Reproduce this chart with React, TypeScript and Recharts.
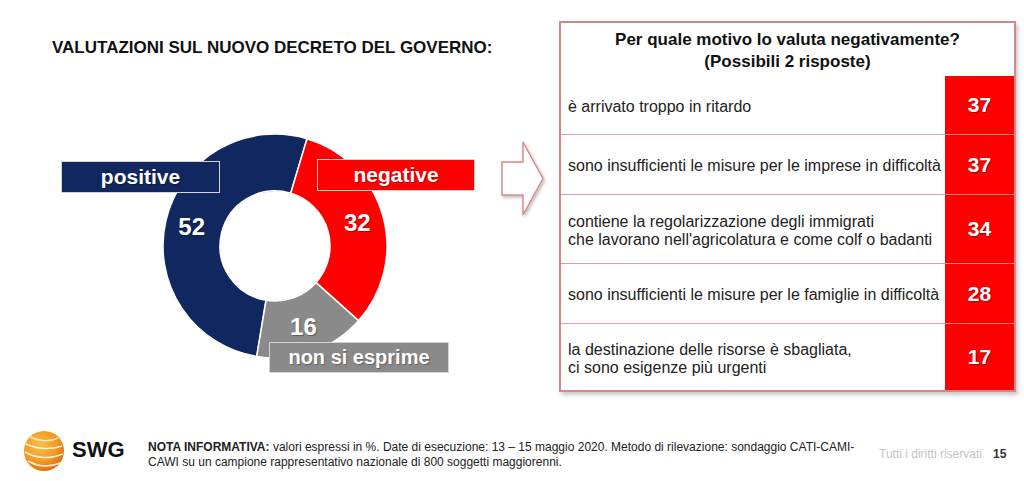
import React from 'react';
import { PieChart, Pie, Cell } from 'recharts';

// ---- data ----
const categories = ['positive', 'negative', 'non si esprime'];
const values = [52, 32, 16];
const reasonLines = [
  ['è arrivato troppo in ritardo'],
  ['sono insufficienti le misure per le imprese in difficoltà'],
  ['contiene la regolarizzazione degli immigrati', "che lavorano nell'agricolatura e come colf o badanti"],
  ['sono insufficienti le misure per le famiglie in difficoltà'],
  ['la destinazione delle risorse è sbagliata,', 'ci sono esigenze più urgenti'],
];
const reasonValues = [37, 37, 34, 28, 17];
const titleText = 'VALUTAZIONI SUL NUOVO DECRETO DEL GOVERNO:';
const tableTitle = ['Per quale motivo lo valuta negativamente?', '(Possibili 2 risposte)'];
const noteBold = 'NOTA INFORMATIVA:';
const noteText1 = ' valori espressi in %. Date di esecuzione: 13 – 15 maggio 2020. Metodo di rilevazione: sondaggio CATI-CAMI-';
const noteText2 = 'CAWI su un campione rappresentativo nazionale di 800 soggetti maggiorenni.';

// ---- styles / layout ----
const FONT = '"Liberation Sans", Arial, Helvetica, sans-serif';
const sliceColors = ['#10285f', '#ff0000', '#8a8a8a'];
const nameBoxes = [
  { left: 61, top: 161, width: 159, height: 32, size: 21 },
  { left: 317, top: 159, width: 158, height: 32, size: 21 },
  { left: 269, top: 342, width: 180, height: 31, size: 20 },
];
const rowHeights = [58, 60, 69, 60, 67];
const RAD = Math.PI / 180;

const pieData = categories.map((name, i) => ({ name, value: values[i] }));

const renderValue = (props: any) => {
  const { cx, cy, midAngle, innerRadius, outerRadius, value } = props;
  const r = (innerRadius + outerRadius) / 2 + 2;
  const x = cx + r * Math.cos(-midAngle * RAD);
  const y = cy + r * Math.sin(-midAngle * RAD);
  return (
    <text
      x={x}
      y={y}
      fill="#fff"
      textAnchor="middle"
      dominantBaseline="central"
      fontFamily={FONT}
      fontWeight="bold"
      fontSize={24}
      style={{ textShadow: '1px 1px 1px rgba(0,0,0,0.35)' }}
    >
      {value}
    </text>
  );
};

export default function App() {
  return (
    <div
      style={{
        position: 'absolute',
        left: 0,
        top: 0,
        width: 1024,
        height: 481,
        background: '#fff',
        fontFamily: FONT,
        overflow: 'hidden',
      }}
    >
      <div
        style={{
          position: 'absolute',
          left: 52,
          top: 38,
          fontSize: 17,
          fontWeight: 'bold',
          color: '#111',
          whiteSpace: 'nowrap',
          lineHeight: '20px',
        }}
      >
        {titleText}
      </div>

      <div style={{ position: 'absolute', left: 0, top: 0 }}>
        <PieChart width={560} height={400}>
          <Pie
            data={pieData}
            dataKey="value"
            nameKey="name"
            cx={270}
            cy={241}
            innerRadius={55}
            outerRadius={112}
            startAngle={-99.4}
            endAngle={-459.4}
            stroke="#ffffff"
            strokeWidth={1.5}
            label={renderValue}
            labelLine={false}
            isAnimationActive={false}
          >
            {pieData.map((d, i) => (
              <Cell key={d.name} fill={sliceColors[i]} />
            ))}
          </Pie>
        </PieChart>
      </div>

      {categories.map((name, i) => (
        <div
          key={name}
          style={{
            position: 'absolute',
            left: nameBoxes[i].left,
            top: nameBoxes[i].top,
            width: nameBoxes[i].width,
            height: nameBoxes[i].height,
            boxSizing: 'border-box',
            background: sliceColors[i],
            border: '1px solid #d4d4d4',
            color: '#fff',
            fontWeight: 'bold',
            fontSize: nameBoxes[i].size,
            display: 'flex',
            alignItems: 'center',
            justifyContent: 'center',
            whiteSpace: 'nowrap',
            textShadow: '1px 1px 1px rgba(0,0,0,0.3)',
          }}
        >
          {name}
        </div>
      ))}

      <svg style={{ position: 'absolute', left: 0, top: 0 }} width={1024} height={481}>
        <defs>
          <filter id="sh" x="-20%" y="-20%" width="140%" height="140%">
            <feDropShadow dx="1.5" dy="2" stdDeviation="1.5" floodColor="#000" floodOpacity="0.25" />
          </filter>
          <radialGradient id="og" cx="40%" cy="35%" r="70%">
            <stop offset="0%" stopColor="#fbc04a" />
            <stop offset="60%" stopColor="#f39a1e" />
            <stop offset="100%" stopColor="#e06a10" />
          </radialGradient>
        </defs>
        <polygon
          points="502,162 523,162 523,142 543,178.5 523,215 523,195 502,195"
          fill="#fff"
          stroke="#d88a8a"
          strokeWidth={1.5}
          filter="url(#sh)"
        />
        <circle cx={44} cy={451} r={20} fill="url(#og)" />
        <path d="M26,444 Q44,452 62,446" stroke="#fff" strokeWidth={1.6} fill="none" opacity={0.85} />
        <path d="M25,452 Q42,462 63,454" stroke="#fff" strokeWidth={1.6} fill="none" opacity={0.85} />
        <path d="M28,461 Q44,470 60,463" stroke="#fff" strokeWidth={1.6} fill="none" opacity={0.85} />
        <path d="M30,437 Q46,444 58,438" stroke="#fff" strokeWidth={1.4} fill="none" opacity={0.7} />
      </svg>

      <div
        style={{
          position: 'absolute',
          left: 559,
          top: 21,
          width: 457,
          height: 371,
          boxSizing: 'border-box',
          border: '2px solid #d08888',
          background: '#fff',
          boxShadow: '2px 3px 4px rgba(0,0,0,0.22)',
          display: 'flex',
          flexDirection: 'column',
        }}
      >
        <div
          style={{
            height: 53,
            boxSizing: 'border-box',
            paddingTop: 6,
            textAlign: 'center',
            fontWeight: 'bold',
            fontSize: 17,
            lineHeight: '22px',
            color: '#111',
          }}
        >
          {tableTitle.map((t) => (
            <div key={t}>{t}</div>
          ))}
        </div>
        {reasonLines.map((lines, i) => (
          <div key={i} style={{ display: 'flex', height: rowHeights[i] }}>
            <div
              style={{
                flex: 1,
                boxSizing: 'border-box',
                borderTop: i > 0 ? '1px solid #d9a0a0' : 'none',
                paddingLeft: 7,
                paddingTop: 3,
                display: 'flex',
                flexDirection: 'column',
                justifyContent: 'center',
                fontSize: 16,
                lineHeight: '18px',
                color: '#222',
                whiteSpace: 'nowrap',
              }}
            >
              {lines.map((l) => (
                <div key={l}>{l}</div>
              ))}
            </div>
            <div
              style={{
                width: 69,
                boxSizing: 'border-box',
                background: '#ff0000',
                borderTop: i > 0 ? '1px solid #ff8080' : 'none',
                display: 'flex',
                alignItems: 'center',
                justifyContent: 'center',
                color: '#fff',
                fontWeight: 'bold',
                fontSize: 21,
                textShadow: '1px 1px 1px rgba(0,0,0,0.35)',
              }}
            >
              {reasonValues[i]}
            </div>
          </div>
        ))}
      </div>

      <div
        style={{
          position: 'absolute',
          left: 72,
          top: 437,
          fontSize: 22,
          fontWeight: 'bold',
          color: '#111',
          lineHeight: '26px',
        }}
      >
        SWG
      </div>
      <div
        style={{
          position: 'absolute',
          left: 148,
          top: 440,
          fontSize: 12,
          lineHeight: '15px',
          color: '#222',
          whiteSpace: 'nowrap',
        }}
      >
        <div>
          <b>{noteBold}</b>
          {noteText1}
        </div>
        <div>{noteText2}</div>
      </div>
      <div
        style={{
          position: 'absolute',
          left: 879,
          top: 446,
          fontSize: 12,
          lineHeight: '16px',
          color: '#c4c4c4',
          whiteSpace: 'nowrap',
        }}
      >
        Tutti i diritti riservati
      </div>
      <div
        style={{
          position: 'absolute',
          left: 993,
          top: 446,
          fontSize: 12,
          lineHeight: '16px',
          fontWeight: 'bold',
          color: '#333',
        }}
      >
        15
      </div>
    </div>
  );
}
